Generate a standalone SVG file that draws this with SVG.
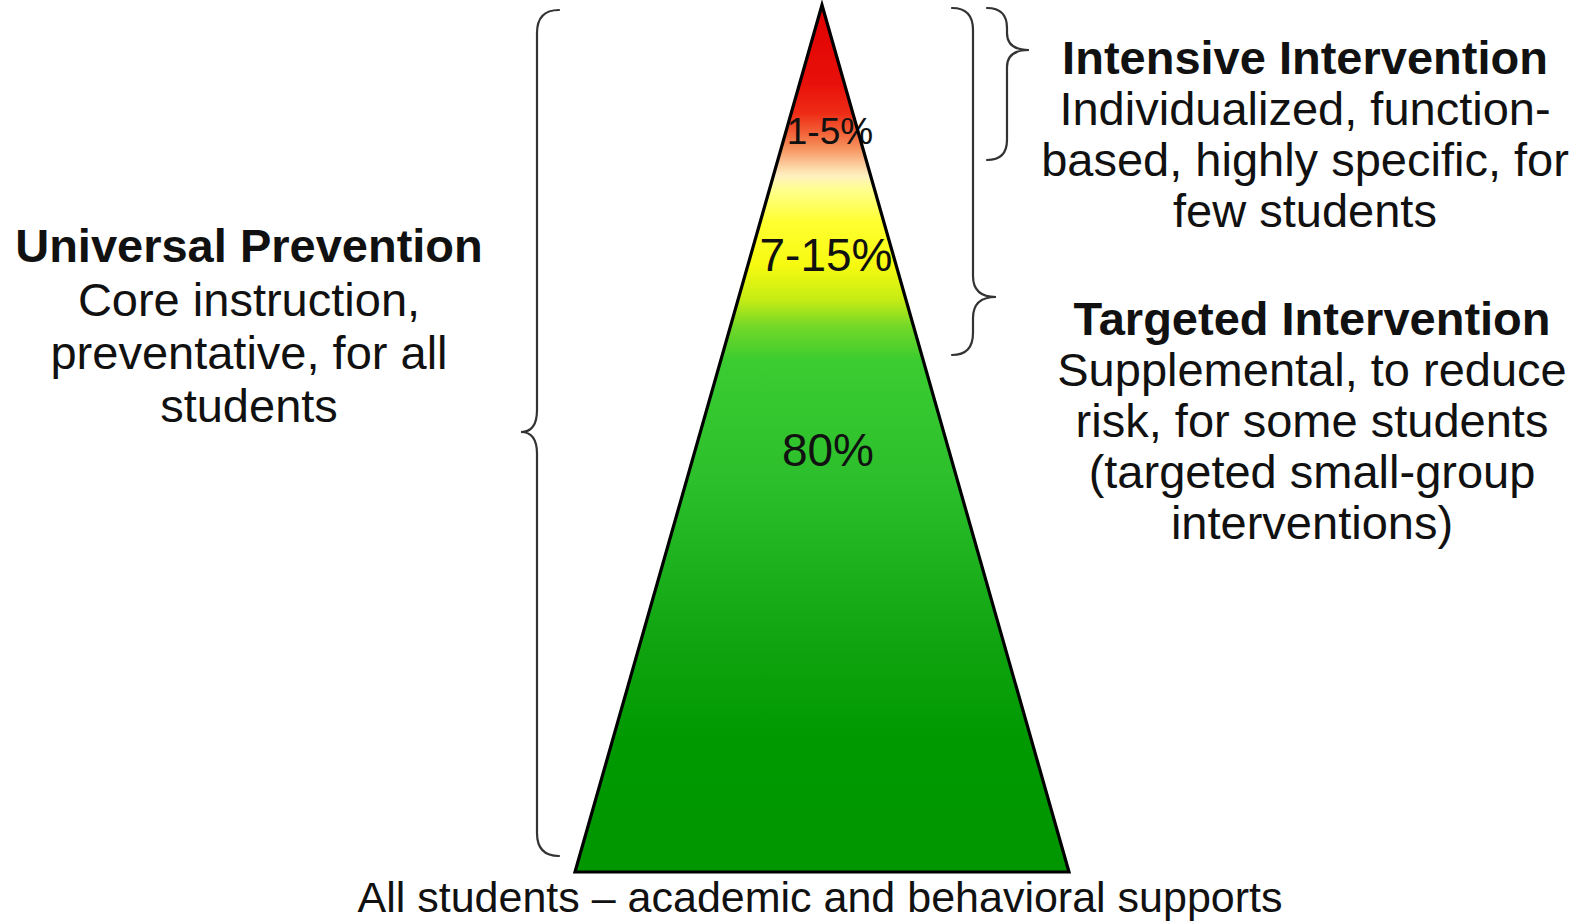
<svg xmlns="http://www.w3.org/2000/svg" width="1589" height="921" viewBox="0 0 1589 921">
  <style>
    text { font-family: "Liberation Sans", Arial, sans-serif; fill: #111; text-anchor: middle; }
    .title { font-weight: bold; font-size: 47px; }
    .body { font-size: 47px; }
    .pct { font-size: 46px; }
    .brace { fill: none; stroke: #333; stroke-width: 2.2; stroke-linecap: round; }
  </style>
  <defs>
    <linearGradient id="pyr" gradientUnits="userSpaceOnUse" x1="0" y1="5" x2="0" y2="873">
      <stop offset="0" stop-color="#e00000"/>
      <stop offset="0.09" stop-color="#e8100a"/>
      <stop offset="0.125" stop-color="#ee2c16"/>
      <stop offset="0.145" stop-color="#f25c34"/>
      <stop offset="0.165" stop-color="#f6925e"/>
      <stop offset="0.185" stop-color="#fcd0a0"/>
      <stop offset="0.197" stop-color="#fff0c0"/>
      <stop offset="0.212" stop-color="#ffff90"/>
      <stop offset="0.25" stop-color="#ffff30"/>
      <stop offset="0.30" stop-color="#f6fa10"/>
      <stop offset="0.34" stop-color="#c4ec14"/>
      <stop offset="0.37" stop-color="#74d828"/>
      <stop offset="0.41" stop-color="#3acc30"/>
      <stop offset="0.55" stop-color="#2cbf2c"/>
      <stop offset="0.72" stop-color="#12a612"/>
      <stop offset="0.85" stop-color="#009900"/>
      <stop offset="1" stop-color="#009600"/>
    </linearGradient>
  </defs>

  <g id="pyramid">
    <polygon points="822,5 575,872 1069,872" fill="url(#pyr)"/>
    <text class="pct" x="830" y="144" style="font-size:37px">1-5%</text>
    <text class="pct" x="826" y="271">7-15%</text>
    <text class="pct" x="828" y="466">80%</text>
    <polygon points="822,5 575,872 1069,872" fill="none" stroke="#000" stroke-width="3.2" stroke-linejoin="miter"/>
  </g>

  <g id="connectors">
    <path id="brace-universal" class="brace" d="M559,10 Q537,10 537,33 L537,410 Q537,432 521,432 Q537,432 537,454 L537,833 Q537,856 559,856"/>
    <path id="brace-targeted" class="brace" d="M952,8 Q973,8 973,30 L973,276 Q973,297 996,297 Q973,297 973,318 L973,333 Q973,355 952,355"/>
    <path id="brace-intensive" class="brace" d="M987,8 Q1007,8 1007,28 L1007,33 Q1007,50 1029,50 Q1007,50 1007,67 L1007,140 Q1007,160 987,160"/>
  </g>

  <g id="universal">
    <text class="title" x="249" y="262">Universal Prevention</text>
    <text class="body" x="249" y="316">Core instruction,</text>
    <text class="body" x="249" y="369">preventative, for all</text>
    <text class="body" x="249" y="422">students</text>
  </g>

  <g id="intensive">
    <text class="title" x="1305" y="74">Intensive Intervention</text>
    <text class="body" x="1305" y="125">Individualized, function-</text>
    <text class="body" x="1305" y="176">based, highly specific, for</text>
    <text class="body" x="1305" y="227">few students</text>
  </g>

  <g id="targeted">
    <text class="title" x="1312" y="335">Targeted Intervention</text>
    <text class="body" x="1312" y="386">Supplemental, to reduce</text>
    <text class="body" x="1312" y="437">risk, for some students</text>
    <text class="body" x="1312" y="488">(targeted small-group</text>
    <text class="body" x="1312" y="539">interventions)</text>
  </g>

  <g id="base-label">
    <text x="820" y="912" style="font-size:43px">All students – academic and behavioral supports</text>
  </g>
</svg>
